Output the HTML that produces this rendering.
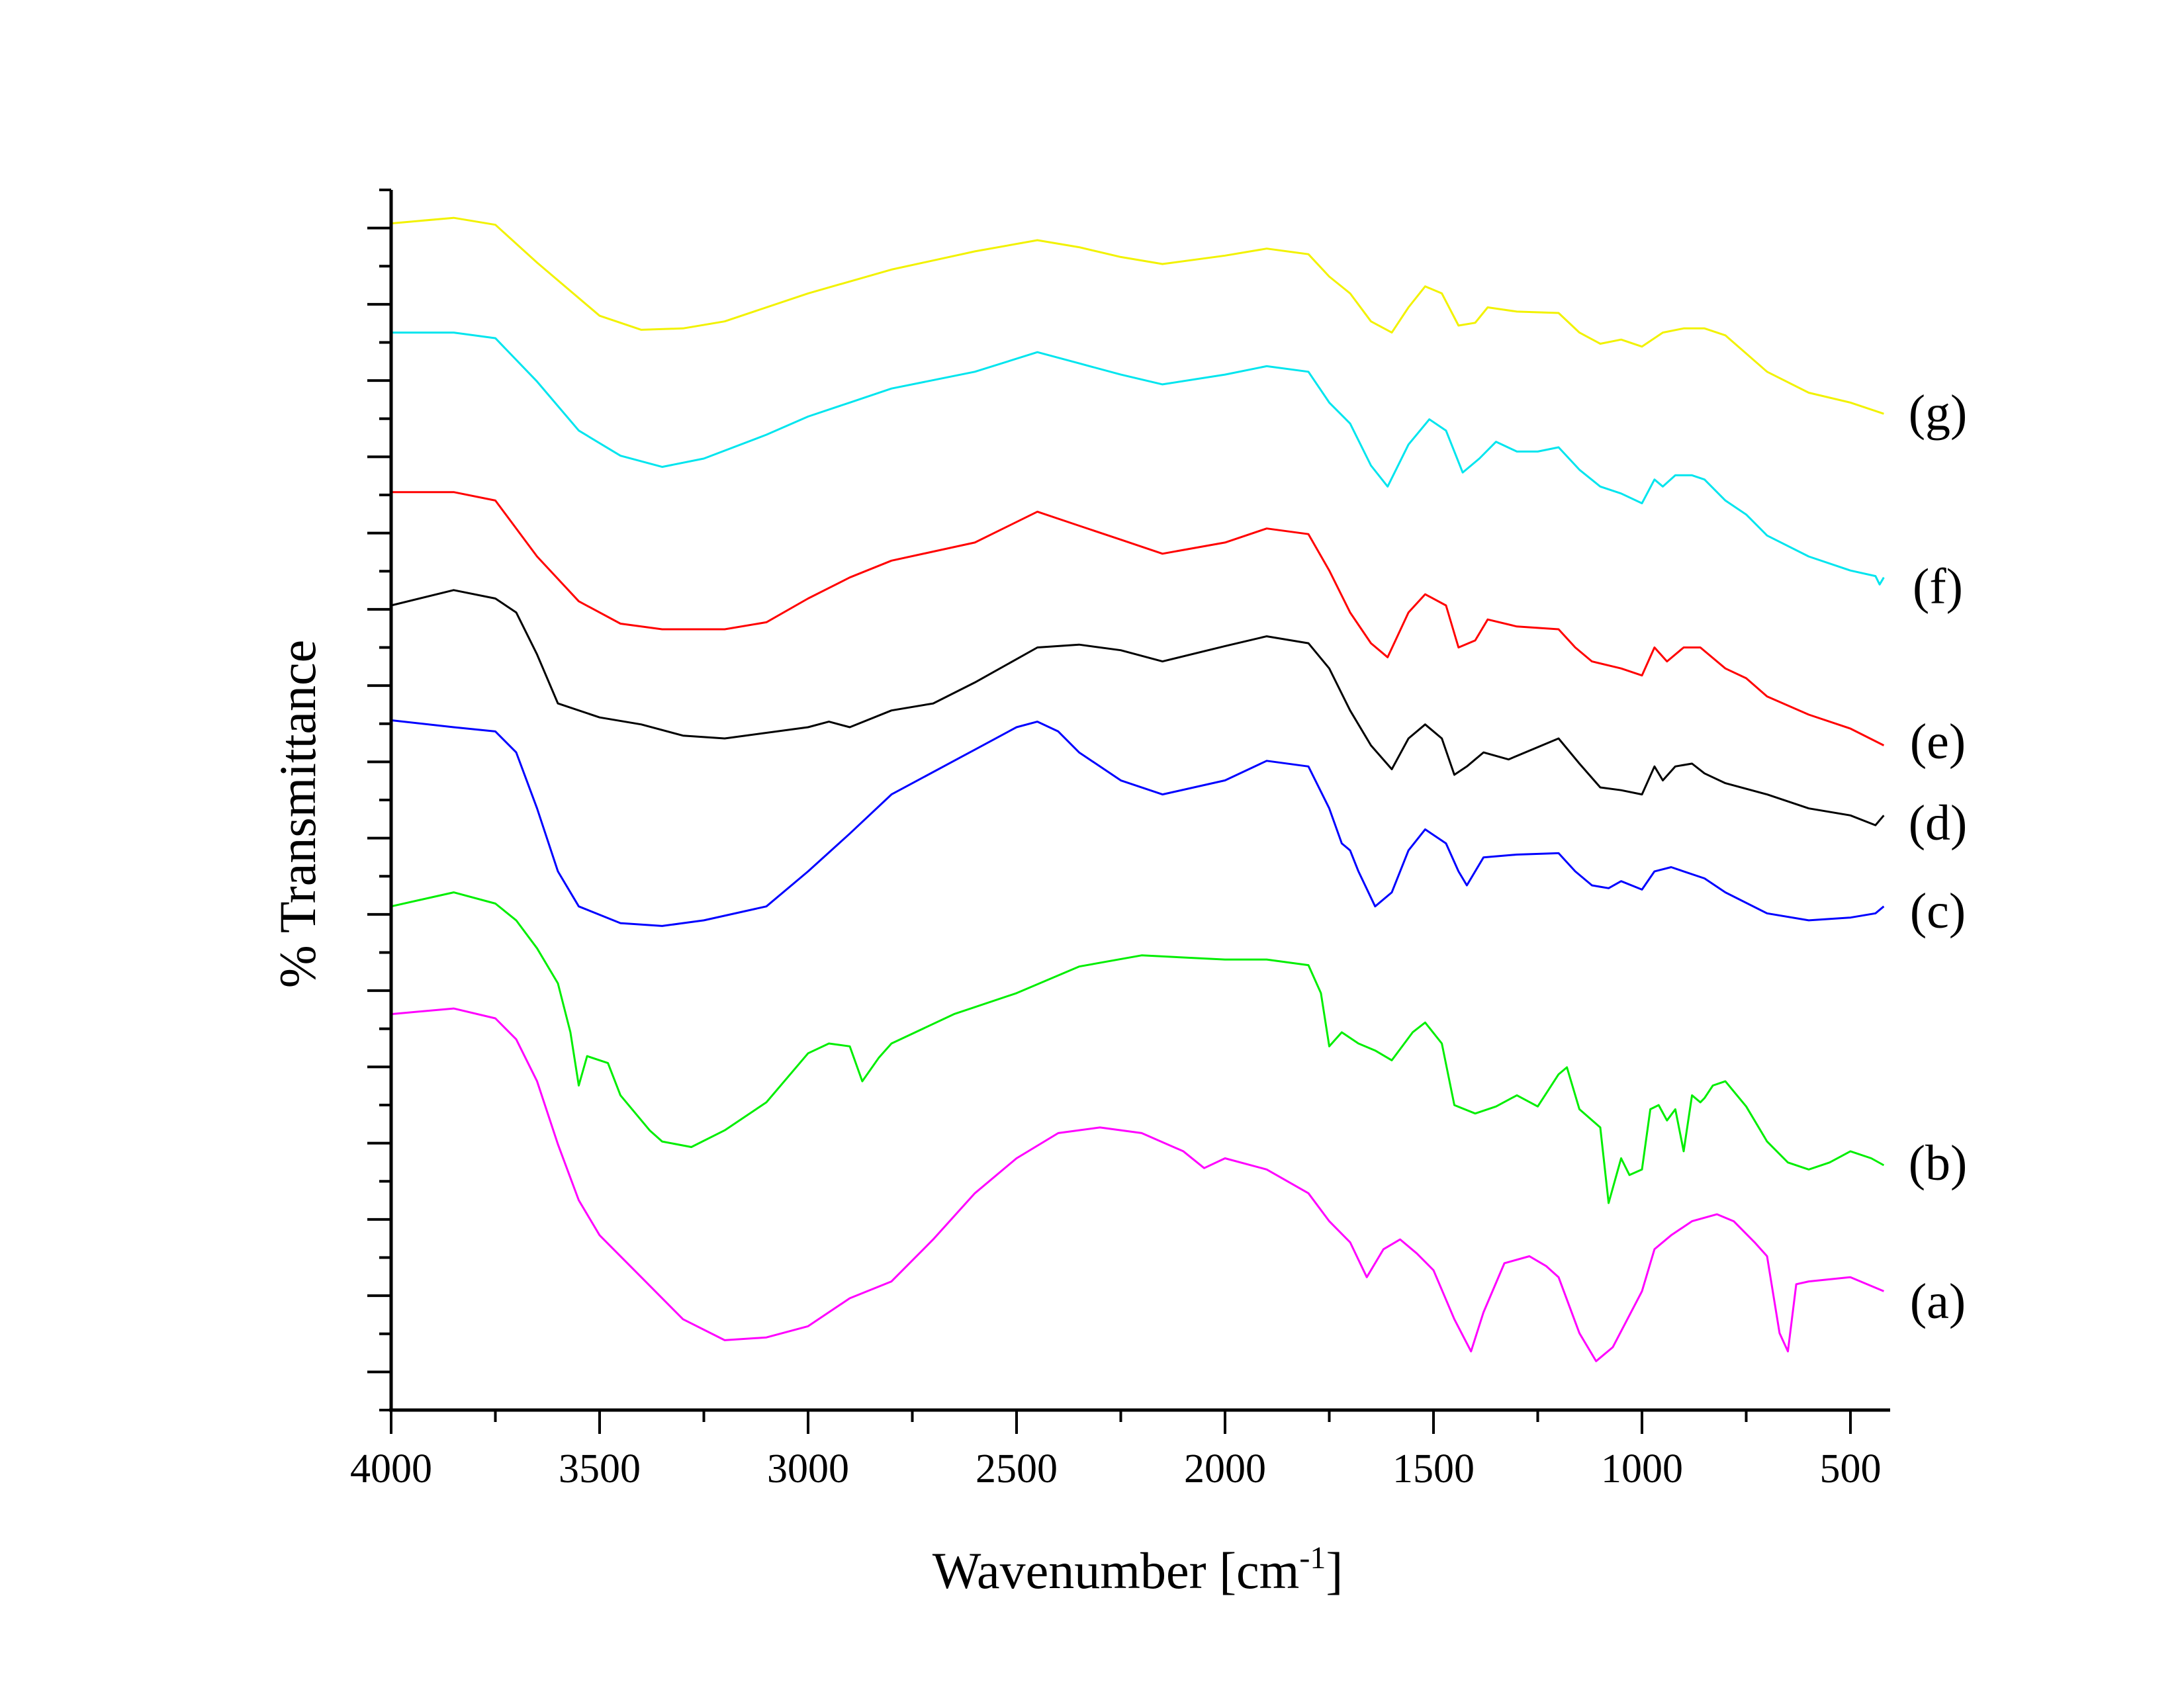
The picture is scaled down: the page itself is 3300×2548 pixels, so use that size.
<!DOCTYPE html>
<html><head><meta charset="utf-8">
<style>
html,body{margin:0;padding:0;background:#fff;}
svg{display:block;}
text{font-family:"Liberation Serif",serif;fill:#000;}
</style></head>
<body>
<svg id="chart" width="3300" height="2548" viewBox="0 0 3300 2548" xmlns="http://www.w3.org/2000/svg">
<g id="curves"></g>
<g id="axes"></g>
<g id="labels"></g>
<text x="1719" y="2400" font-size="78" text-anchor="middle">Wavenumber [cm<tspan dy="-30" font-size="48">-1</tspan><tspan dy="30">]</tspan></text>
<text transform="translate(476,1230) rotate(-90)" font-size="78" text-anchor="middle">% Transmittance</text>
</svg>
<script>
// wavenumbers (cm-1) and curve depth values (arbitrary, larger = lower on plot)
const wnA=[4000,3850,3750,3700,3650,3600,3550,3500,3400,3300,3200,3100,3000,2900,2800,2700,2600,2500,2400,2300,2200,2100,2050,2000,1900,1800,1750,1700,1660,1620,1580,1540,1500,1450,1410,1380,1330,1270,1230,1200,1150,1110,1070,1000,970,930,880,820,780,730,700,670,650,630,600,500,420];
const vA=[727,723,730,745,775,820,860,885,915,945,960,958,950,930,918,888,855,830,812,808,812,825,837,830,838,855,875,890,915,895,888,898,910,945,968,940,905,900,907,915,955,975,965,925,895,885,875,870,875,890,900,955,968,920,918,915,925];
const wnB=[4000,3850,3750,3700,3650,3600,3570,3550,3530,3480,3450,3380,3350,3280,3200,3100,3000,2950,2900,2870,2830,2800,2650,2500,2350,2200,2000,1900,1800,1770,1750,1720,1680,1640,1600,1550,1520,1480,1450,1400,1350,1300,1250,1200,1180,1150,1100,1080,1050,1030,1000,980,960,940,920,900,880,860,850,830,800,750,700,650,600,550,500,450,420];
const vB=[650,640,648,660,680,705,740,778,757,762,785,810,818,822,810,790,755,748,750,775,758,748,727,712,693,685,688,688,692,712,750,740,748,753,760,740,733,748,792,798,793,785,793,770,765,795,808,862,830,842,838,795,792,803,795,825,785,790,787,778,775,793,818,833,838,833,825,830,835];
const wnC=[4000,3850,3750,3700,3650,3600,3550,3450,3350,3250,3100,3000,2900,2800,2600,2500,2450,2400,2350,2250,2150,2000,1900,1800,1750,1720,1700,1680,1640,1600,1560,1520,1470,1440,1420,1380,1300,1200,1160,1120,1080,1050,1000,970,930,900,850,800,700,600,500,440,420];
const vC=[517,522,525,540,580,625,650,662,664,660,650,625,598,570,538,522,518,525,540,560,570,560,546,550,580,605,610,625,650,640,610,595,605,625,635,615,613,612,625,635,637,632,638,625,622,625,630,640,655,660,658,655,650];
const wnD=[4000,3850,3750,3700,3650,3600,3500,3400,3300,3200,3000,2950,2900,2800,2700,2600,2450,2350,2250,2150,2000,1900,1800,1750,1700,1650,1600,1560,1520,1480,1450,1420,1380,1320,1200,1150,1100,1050,1000,970,950,920,880,850,800,700,600,500,440,420];
const vD=[435,424,430,440,470,505,515,520,528,530,522,518,522,510,505,490,465,463,467,475,464,457,462,480,510,535,552,530,520,530,556,550,540,545,530,548,565,567,570,550,560,550,548,555,562,570,580,585,592,585];
const wnE=[4000,3850,3750,3650,3550,3450,3350,3200,3100,3000,2900,2800,2600,2450,2350,2250,2150,2000,1900,1800,1750,1700,1650,1610,1560,1520,1470,1440,1400,1370,1300,1200,1160,1120,1050,1000,970,940,900,860,800,750,700,600,500,420];
const vE=[354,354,360,400,432,448,452,452,447,430,415,403,390,368,378,388,398,390,380,384,410,440,462,472,440,427,435,465,460,445,450,452,465,475,480,485,465,475,465,465,480,487,500,513,523,535];
const wnF=[4000,3850,3750,3650,3550,3450,3350,3250,3100,3000,2900,2800,2600,2450,2350,2250,2150,2000,1900,1800,1750,1700,1650,1610,1560,1510,1470,1430,1390,1350,1300,1250,1200,1150,1100,1050,1000,970,950,920,880,850,800,750,700,600,500,440,430,420];
const vF=[240,240,244,275,310,328,336,330,313,300,290,280,268,254,262,270,277,270,264,268,290,305,335,350,320,302,310,340,330,318,325,325,322,338,350,355,362,345,350,342,342,345,360,370,385,400,410,414,420,415];
const wnG=[4000,3850,3750,3650,3500,3400,3300,3200,3000,2800,2600,2450,2350,2250,2150,2000,1900,1800,1750,1700,1650,1600,1560,1520,1480,1440,1400,1370,1300,1200,1150,1100,1050,1000,950,900,850,800,750,700,600,500,420];
const vG=[162,158,163,190,228,238,237,232,212,195,182,174,179,186,191,185,180,184,200,212,232,240,222,207,212,235,233,222,225,226,240,248,245,250,240,237,237,242,255,268,283,290,298];
const xTicks=[4000,3500,3000,2500,2000,1500,1000,500];
const seriesNames=["(a)","(b)","(c)","(d)","(e)","(f)","(g)"];
const labelPos=[932,833,653,590,532,421,297];

const NS="http://www.w3.org/2000/svg";
function X(w){return 591+(4000-w)/500*315;}
function Y(v){return v*2.115-5;}
function mk(tag,attrs,parent){const e=document.createElementNS(NS,tag);for(const k in attrs)e.setAttribute(k,attrs[k]);parent.appendChild(e);return e;}

const series=[[wnA,vA,"#ff00ff","curve-a"],[wnB,vB,"#00ee00","curve-b"],[wnC,vC,"#0000ff","curve-c"],[wnD,vD,"#000000","curve-d"],[wnE,vE,"#ff0000","curve-e"],[wnF,vF,"#00e5ee","curve-f"],[wnG,vG,"#f2f200","curve-g"]];
const cg=document.getElementById('curves');
series.forEach(s=>{
  let d="";
  s[0].forEach((w,i)=>{d+=(i?"L":"M")+X(w).toFixed(1)+","+Y(s[1][i]).toFixed(1);});
  const p=mk('path',{d:d,fill:"none",stroke:s[2],"stroke-width":3,"stroke-linejoin":"round"},cg);
  
  
});

const ag=document.getElementById('axes');
const axLeft=591,axBottom=2131,axTop=287,axRight=2856;
const xa=mk('line',{x1:axLeft-3,y1:axBottom,x2:axRight,y2:axBottom,stroke:"#000","stroke-width":5},ag);


const ya=mk('line',{x1:axLeft,y1:axTop,x2:axLeft,y2:axBottom+2,stroke:"#000","stroke-width":5},ag);


for(let w=4000;w>=400;w-=250){
  const major=(w%500===0);
  const t=mk('line',{x1:X(w),y1:axBottom,x2:X(w),y2:axBottom+(major?36:18),stroke:"#000","stroke-width":4},ag);
  
  
}
xTicks.forEach(w=>{
  const t=mk('text',{x:X(w),y:2240,"font-size":62,"text-anchor":"middle"},ag);
  t.textContent=w;
  
  
});
const step=(axBottom-axTop)/32;
for(let i=0;i<=32;i++){
  const y=axBottom-i*step;const major=(i%2===1);
  const t=mk('line',{x1:axLeft,y1:y,x2:axLeft-(major?36:18),y2:y,stroke:"#000","stroke-width":4},ag);
  
  
}
const lg=document.getElementById('labels');
seriesNames.forEach((n,i)=>{
  const t=mk('text',{x:2928,y:Y(labelPos[i])+26,"font-size":76,"text-anchor":"middle"},lg);
  t.textContent=n;
  
  
});
</script>
</body></html>
